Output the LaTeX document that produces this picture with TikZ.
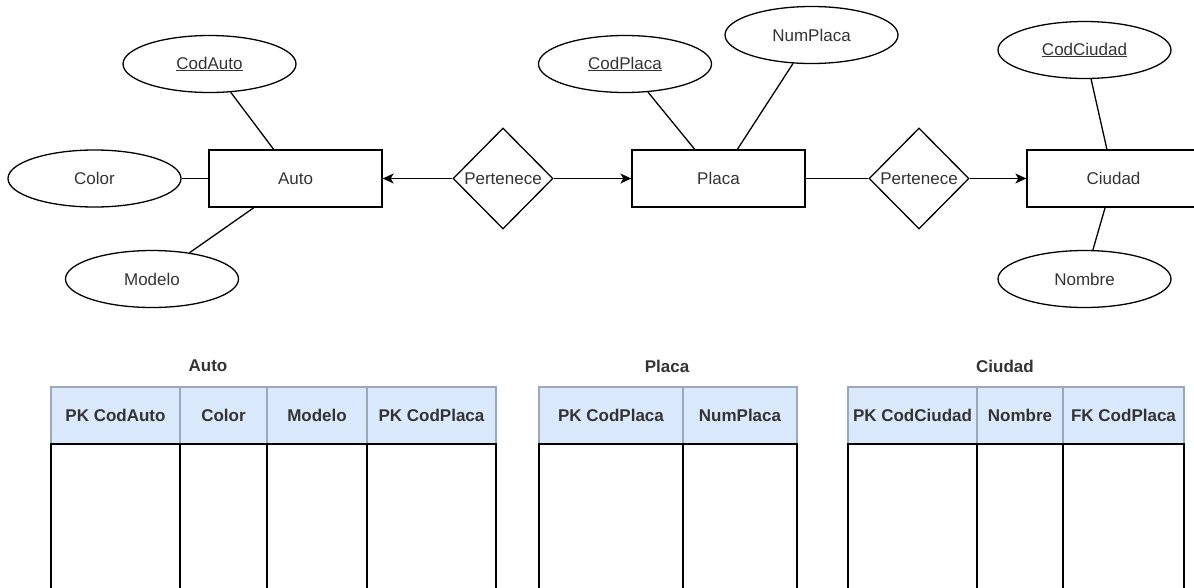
\documentclass[tikz,border=0pt]{standalone}
\usepackage{fontspec}
\setmainfont{Liberation Sans}
\usetikzlibrary{arrows.meta,positioning,shapes.geometric}
\definecolor{txtgray}{HTML}{333333}
\definecolor{hdrfill}{HTML}{DAE8FC}
\definecolor{hdrline}{HTML}{9AA8B8}
\tikzset{>=Latex}
\tikzset{
  entity/.style={draw, line width=1.3pt, minimum width=173pt, minimum height=57pt, inner sep=0pt, text=txtgray},
  attrib/.style={ellipse, draw, line width=1.3pt, minimum width=173pt, minimum height=57pt, inner sep=0pt, text=txtgray},
  rel/.style={diamond, draw, line width=1.3pt, minimum width=100pt, minimum height=101pt, inner sep=0pt, text=txtgray},
  link/.style={line width=1.3pt},
  arrow/.style={-{Stealth[length=11pt,width=10pt,inset=3pt]}, line width=1.3pt},
  hcell/.style={draw=hdrline, fill=hdrfill, line width=1.2pt, minimum height=57pt, inner sep=0pt, outer sep=0pt, text=txtgray, font=\fontsize{17}{20}\selectfont\bfseries},
  body/.style={draw, line width=1.2pt},
  title/.style={text=txtgray, font=\fontsize{17}{20}\selectfont\bfseries},
}

\begin{document}
\begin{tikzpicture}[x=1pt, y=-1pt, font=\fontsize{17}{20}\selectfont]
\useasboundingbox (0,0) rectangle (1194,587);
\clip (0,0) rectangle (1194,587);

\node[entity] (auto) at (295.5,178.5) {Auto};
\node[entity] (placa) at (718.5,178.5) {Placa};
\node[entity] (ciudad) at (1113.5,178.5) {Ciudad};
\node[rel] (rel1) at (503,178.5) {Pertenece};
\node[rel] (rel2) at (919,178.5) {Pertenece};

\node[attrib] (codauto) at (209.5,64) {\underline{CodAuto}};
\node[attrib] (color) at (94.5,178.5) {Color};
\node[attrib] (modelo) at (152,279) {Modelo};
\node[attrib] (codplaca) at (625,64) {\underline{CodPlaca}};
\node[attrib] (numplaca) at (811.5,35) {NumPlaca};
\node[attrib] (codciudad) at (1084.5,50) {\underline{CodCiudad}};
\node[attrib] (nombre) at (1084.5,279) {Nombre};

\draw[link] (codauto) -- (auto);
\draw[link] (color) -- (auto);
\draw[link] (modelo) -- (auto);
\draw[link] (codplaca) -- (placa);
\draw[link] (numplaca) -- (placa);
\draw[link] (codciudad) -- (ciudad);
\draw[link] (nombre) -- (ciudad);

\draw[arrow] (rel1) -- (auto);
\draw[arrow] (rel1) -- (placa);
\draw[link] (placa) -- (rel2);
\draw[arrow] (rel2) -- (ciudad);

\node[title] (tauto) at (208,366) {Auto};
\node[hcell, minimum width=129pt, anchor=north west] (hcodauto) at (51,387) {PK CodAuto};
\node[hcell, minimum width=87pt, right=0pt of hcodauto] (hcolor) {Color};
\node[hcell, minimum width=100pt, right=0pt of hcolor] (hmodelo) {Modelo};
\node[hcell, minimum width=129pt, right=0pt of hmodelo] (hfkplaca) {PK CodPlaca};
\draw[body] (hcodauto.south west) rectangle ++(129,160);
\draw[body] (hcolor.south west) rectangle ++(87,160);
\draw[body] (hmodelo.south west) rectangle ++(100,160);
\draw[body] (hfkplaca.south west) rectangle ++(129,160);

\node[title] (tplaca) at (667,366) {Placa};
\node[hcell, minimum width=144pt, anchor=north west] (hcodplaca) at (539,387) {PK CodPlaca};
\node[hcell, minimum width=114pt, right=0pt of hcodplaca] (hnumplaca) {NumPlaca};
\draw[body] (hcodplaca.south west) rectangle ++(144,160);
\draw[body] (hnumplaca.south west) rectangle ++(114,160);

\node[title] (tciudad) at (1005,366) {Ciudad};
\node[hcell, minimum width=129pt, anchor=north west] (hcodciudad) at (848,387) {PK CodCiudad};
\node[hcell, minimum width=86pt, right=0pt of hcodciudad] (hnombre) {Nombre};
\node[hcell, minimum width=121pt, right=0pt of hnombre] (hcodplacac) {FK CodPlaca};
\draw[body] (hcodciudad.south west) rectangle ++(129,160);
\draw[body] (hnombre.south west) rectangle ++(86,160);
\draw[body] (hcodplacac.south west) rectangle ++(121,160);
\end{tikzpicture}
\end{document}
